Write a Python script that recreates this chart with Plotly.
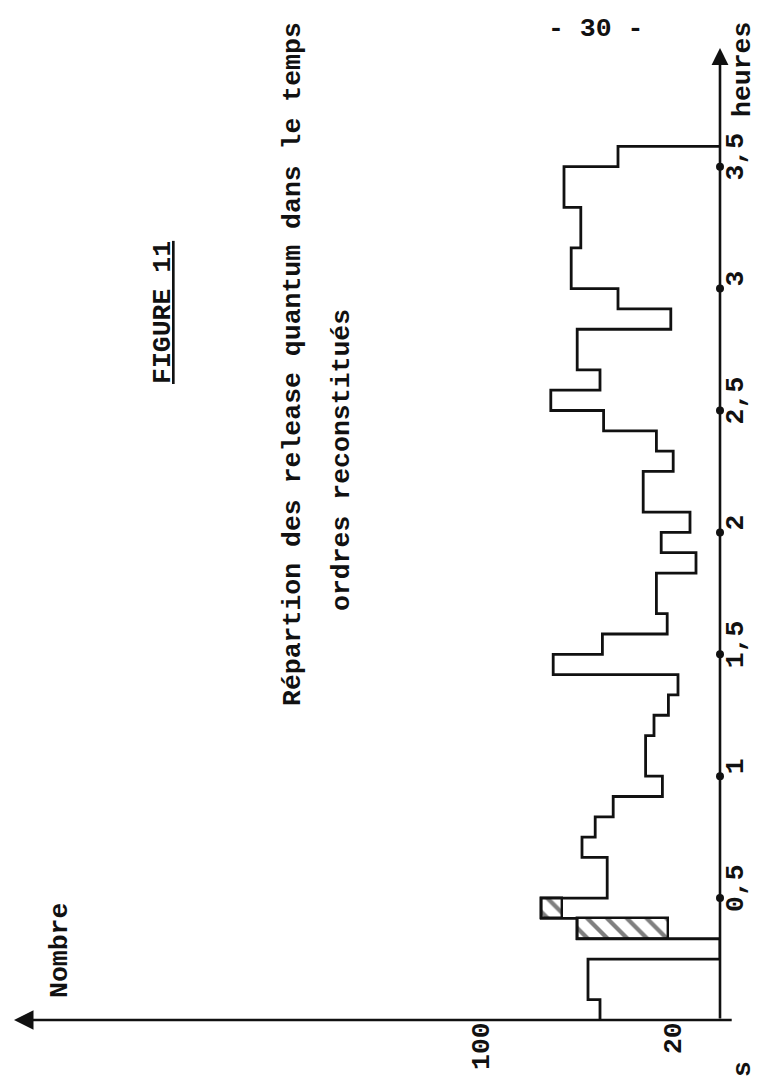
import plotly.graph_objects as go

# ---------------- data ----------------
BIN_MINUTES = 5  # width of each histogram class, minutes
# number of release quanta per 5-minute class, from t = 0 upward
counts = [50, 55, 55, 0, 59.5, 74.5, 47, 47, 57.5, 52, 44.5, 24, 31, 31,
          27.5, 21.5, 17.5, 69.5, 49, 22, 26.5, 26.5, 10, 24.5, 12.5, 32, 32,
          19.5, 26.5, 48.5, 70.5, 50, 59.5, 59.5, 20.5, 42.5, 62, 62, 58, 58,
          65, 65, 42.5]
# hatched part of some classes: class index and the level where hatching starts
hatch_bins = [4, 5]
hatch_from = [21.5, 66.0]

time_ticks = [0.5, 1, 1.5, 2, 2.5, 3, 3.5]
time_ticktext = ["0,5", "1", "1,5", "2", "2,5", "3", "3,5"]
count_ticks = [20, 100]
count_ticktext = ["20", "100"]

# ---------------- layout geometry ----------------
W, H = 759, 1078
ML, MR, MT, MB = 6, 47, 40, 66
PW, PH = W - ML - MR, H - MT - MB
PX_PER_COUNT = 2.4
PX_PER_HOUR = 243.8
X_MAX = PW / PX_PER_COUNT
Y_MAX = PH / PX_PER_HOUR

FONT = "Liberation Mono"
FS = 26.5
INK = "#111111"


def px(xp):
    return (xp - ML) / PW


def py(yp):
    return (H - MB - yp) / PH


edges = [k * BIN_MINUTES / 60.0 for k in range(len(counts) + 1)]

fig = go.Figure()

# hatched portions
fig.add_trace(go.Bar(
    orientation="h",
    y=[(edges[b] + edges[b + 1]) / 2 for b in hatch_bins],
    x=[counts[b] - f for b, f in zip(hatch_bins, hatch_from)],
    base=hatch_from,
    width=[edges[b + 1] - edges[b] for b in hatch_bins],
    marker=dict(color="white",
                line=dict(color=INK, width=2.4),
                pattern=dict(shape="\\", fgcolor="#000000", bgcolor="white",
                             size=14, solidity=0.3)),
    showlegend=False, hoverinfo="skip",
))

# histogram outline (step line)
fig.add_trace(go.Scatter(
    x=counts + [0],
    y=edges,
    mode="lines",
    line=dict(color=INK, width=2.8, shape="vh"),
    showlegend=False, hoverinfo="skip", cliponaxis=False,
))

# tick dots on the time axis
fig.add_trace(go.Scatter(
    x=[0] * len(time_ticks), y=time_ticks, mode="markers",
    marker=dict(color=INK, size=8, symbol="circle"),
    showlegend=False, hoverinfo="skip", cliponaxis=False,
))

annotations = [
    # time axis with arrow
    dict(x=0, y=Y_MAX, ax=0, ay=0, xref="x", yref="y", axref="x", ayref="y",
         text="", showarrow=True, arrowhead=2, arrowsize=1.3, arrowwidth=2.6,
         arrowcolor=INK),
    # count axis with arrow
    dict(x=X_MAX, y=0, ax=-5.5, ay=0, xref="x", yref="y", axref="x", ayref="y",
         text="", showarrow=True, arrowhead=2, arrowsize=1.5, arrowwidth=2.6,
         arrowcolor=INK),
]


def txt(s, xp, yp, angle=-90, size=FS):
    return dict(text=s, x=px(xp), y=py(yp), xref="paper", yref="paper",
                showarrow=False, textangle=angle, xanchor="center",
                yanchor="middle",
                font=dict(family=FONT, size=size, color=INK, weight="bold"))


annotations += [
    txt("<u>FIGURE 11</u>", 155, 305),
    txt("Répartion des release quantum dans le temps", 285, 356),
    txt("ordres reconstitués", 334, 452),
    txt("Nombre", 52, 943),
    txt("heures", 735, 62),
    txt("- 30 -", 587, 21, angle=0),
    txt("s", 735, 1061),
]

tickfont = dict(family=FONT, size=FS, color=INK, weight="bold")

fig.update_layout(
    width=W, height=H, autosize=False,
    margin=dict(l=ML, r=MR, t=MT, b=MB, pad=0),
    paper_bgcolor="white", plot_bgcolor="white",
    showlegend=False, bargap=0,
    annotations=annotations,
    xaxis=dict(range=[X_MAX, 0], showgrid=False, zeroline=False,
               showline=False, tickvals=count_ticks, ticktext=count_ticktext,
               tickangle=-90, ticks="", ticklabelstandoff=-4,
               tickfont=tickfont, fixedrange=True),
    yaxis=dict(range=[0, Y_MAX], side="right", showgrid=False, zeroline=False,
               showline=False, tickvals=time_ticks, ticktext=time_ticktext,
               tickangle=-90, ticks="", ticklabelstandoff=-5,
               ticklabelshift=-6,
               tickfont=tickfont, fixedrange=True),
)

fig.write_html("out.html")
